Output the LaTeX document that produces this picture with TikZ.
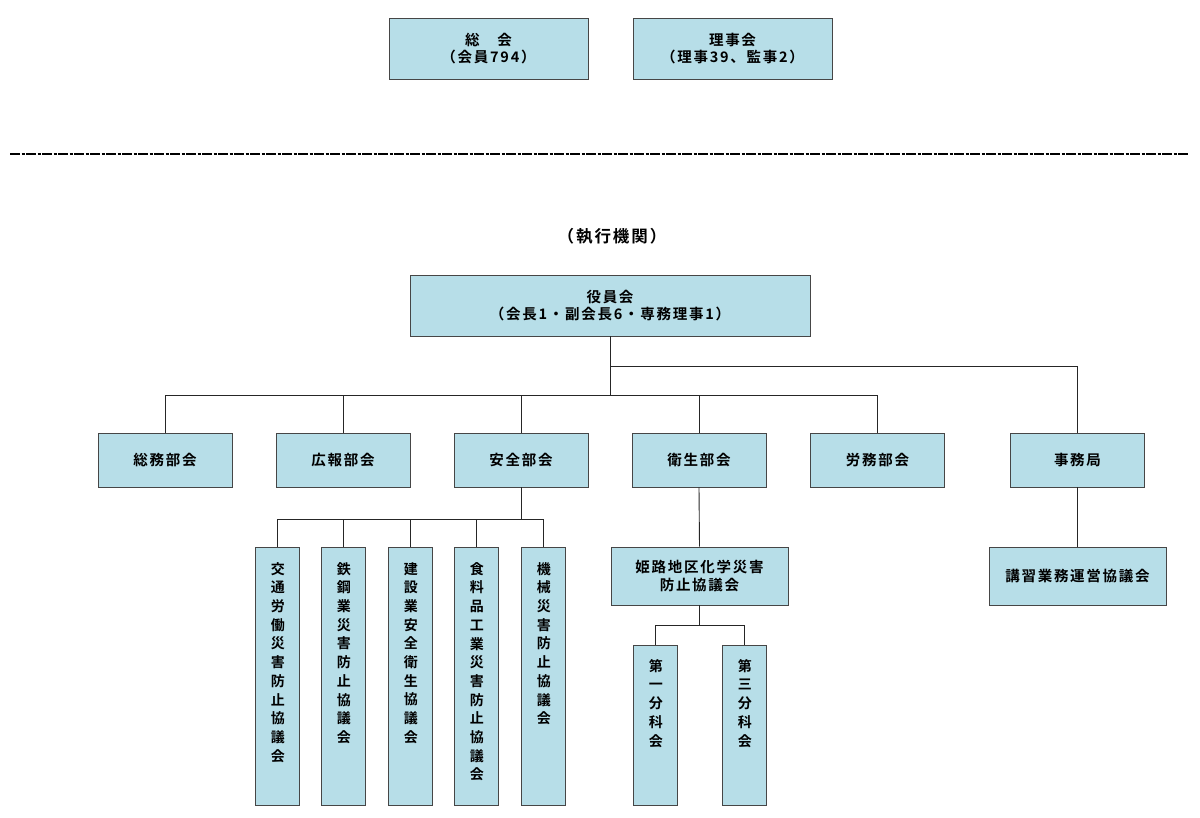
\documentclass[tikz,border=0pt]{standalone}
\usepackage{fontspec}
\newfontfamily\cjk{Noto Sans CJK JP}[BoldFont={Noto Sans CJK JP Bold}, LetterSpace=12]
\usetikzlibrary{calc}
\definecolor{boxfill}{RGB}{183,222,232}
\definecolor{boxline}{RGB}{70,70,70}
\tikzset{
  orgbox/.style={draw=boxline, line width=0.9pt, fill=boxfill, align=center, inner sep=0pt,
    font=\cjk\bfseries\fontsize{14.5}{17.5}\selectfont},
  vbox/.style={draw=boxline, line width=0.9pt, fill=boxfill, align=center, inner sep=0pt,
    minimum width=44pt},
  vtext/.style={align=center, inner sep=0pt, anchor=north, font=\cjk\bfseries\fontsize{14}{18.7}\selectfont},
  conn/.style={draw=black!85, line width=0.9pt},
}
\begin{document}
\begin{tikzpicture}[x=1pt,y=-1pt]
\useasboundingbox (0,0) rectangle (1200,817);
% top
\node[orgbox, minimum width=199pt, minimum height=61pt] (sokai) at (488.5,48.5) {総　会\\（会員794）};
\node[orgbox, minimum width=199pt, minimum height=61pt] (rijikai) at (732.5,48.5) {理事会\\（理事39、監事2）};
% separator
\coordinate (sepL) at (10,154);
\coordinate (sepR) at (1188,154);
\draw[line width=2.4pt, dash pattern=on 10pt off 1.5pt on 3pt off 1.5pt, black] (sepL) -- (sepR);
\node[font=\cjk\bfseries\fontsize{16.5}{19}\selectfont] (shikko) at (612,236) {（執行機関）};
% yakuin
\node[orgbox, minimum width=400pt, minimum height=61pt] (yakuin) at (610,305.5) {役員会\\（会長1・副会長6・専務理事1）};
% second row
\foreach \n/\t/\x in {somu/総務部会/165, koho/広報部会/343, anzen/安全部会/521, eisei/衛生部会/699, romu/労務部会/877.5, jimu/事務局/1077.5}{
  \node[orgbox, minimum width=134pt, minimum height=54pt] (\n) at (\x,460) {\t};
}
% connectors from yakuin
\coordinate (bus) at (0,395);
\coordinate (bus2) at (0,366);
\draw[conn] (yakuin.south) -- (yakuin.south |- bus);
\draw[conn] (somu.north) -- (somu.north |- bus) -- (romu.north |- bus) -- (romu.north);
\foreach \n in {koho,anzen,eisei}{ \draw[conn] (\n.north) -- (\n.north |- bus); }
\draw[conn] (yakuin.south |- bus2) -| (jimu.north);
% anzen children
\foreach \n/\x/\t in {kotsu/277/交\\通\\労\\働\\災\\害\\防\\止\\協\\議\\会,
                      tekko/343/鉄\\鋼\\業\\災\\害\\防\\止\\協\\議\\会,
                      kensetsu/410/建\\設\\業\\安\\全\\衛\\生\\協\\議\\会,
                      shokuhin/476/食\\料\\品\\工\\業\\災\\害\\防\\止\\協\\議\\会,
                      kikai/543/機\\械\\災\\害\\防\\止\\協\\議\\会}{
  \node[vbox, minimum height=258pt] (\n) at (\x,676) {};
  \node[vtext] (\n t) at ($(\n.north)+(0.8,15.5)$) {\t};
}
\coordinate (bus3) at (0,519);
\draw[conn] (anzen.south) -- (anzen.south |- bus3);
\draw[conn] (kotsu.north) -- (kotsu.north |- bus3) -- (kikai.north |- bus3) -- (kikai.north);
\foreach \n in {tekko,kensetsu,shokuhin}{ \draw[conn] (\n.north) -- (\n.north |- bus3); }
% eisei child
\node[orgbox, minimum width=177pt, minimum height=58pt] (himeji) at (699.5,576) {姫路地区化学災害\\防止協議会};
\draw[conn] (eisei.south) -- (himeji.north);
\node[vbox, minimum height=160pt] (dai1) at (655,725) {};
\node[vtext] (dai1t) at ($(dai1.north)+(0.8,14.5)$) {第\\一\\分\\科\\会};
\node[vbox, minimum height=160pt] (dai3) at (744,725) {};
\node[vtext] (dai3t) at ($(dai3.north)+(0.8,14.5)$) {第\\三\\分\\科\\会};
\coordinate (bus4) at (0,625);
\draw[conn] (himeji.south) -- (himeji.south |- bus4);
\draw[conn] (dai1.north) -- (dai1.north |- bus4) -- (dai3.north |- bus4) -- (dai3.north);
% jimu child
\node[orgbox, minimum width=177pt, minimum height=58pt] (koshu) at (1077.5,576) {講習業務運営協議会};
\draw[conn] (jimu.south) -- (koshu.north);
\end{tikzpicture}
\end{document}
